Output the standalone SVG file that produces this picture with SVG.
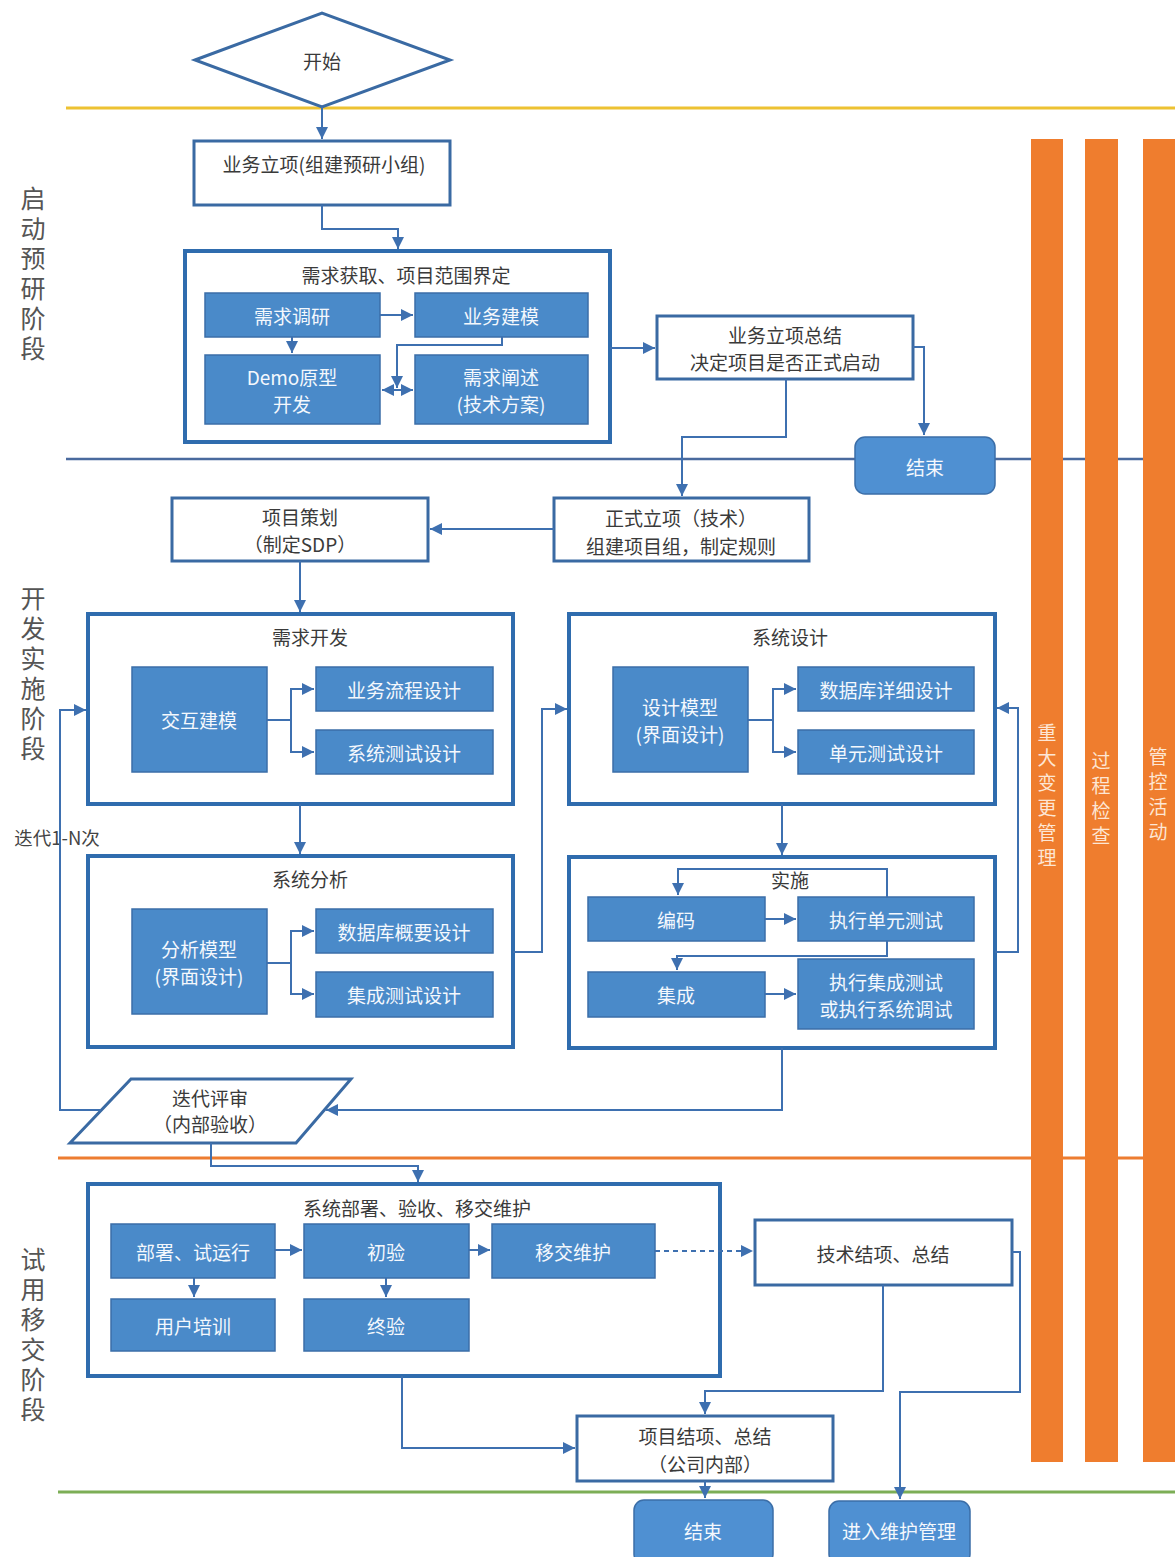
<svg xmlns="http://www.w3.org/2000/svg" width="1175" height="1557" viewBox="0 0 1175 1557">
<style>
text{font-family:"Noto Sans CJK SC","Liberation Sans",sans-serif;text-anchor:middle;dominant-baseline:central}
.t{font-size:19px;fill:#3a3a3a}
.w{font-size:19px;fill:#f4f8fd}
.ph{font-size:25px;fill:#555;writing-mode:vertical-rl;letter-spacing:5px}
.ob{font-size:19px;fill:#fde6d4;writing-mode:vertical-rl;letter-spacing:6px}
.cont{fill:#fff;stroke:#2f6cae;stroke-width:4}
.wb{fill:#fff;stroke:#3a6aa3;stroke-width:3}
.bb{fill:#4a8ac9;stroke:#3b6ea8;stroke-width:1.5}
.rb{fill:#4f90d2;stroke:#3b6ea8;stroke-width:1.5}
.c{fill:none;stroke:#3e70b0;stroke-width:2}
.a{marker-end:url(#ah)}
.bar{fill:#ef7d2e}
</style>
<defs>
<marker id="ah" markerUnits="userSpaceOnUse" markerWidth="12" markerHeight="12" viewBox="0 0 10 10" refX="10" refY="5" orient="auto"><path d="M0,0 L10,5 L0,10 z" fill="#3e70b0"/></marker>
<marker id="ahs" markerUnits="userSpaceOnUse" markerWidth="12" markerHeight="12" viewBox="0 0 10 10" refX="0" refY="5" orient="auto"><path d="M10,0 L0,5 L10,10 z" fill="#3e70b0"/></marker>
</defs>
<rect width="1175" height="1557" fill="#fff"/>

<!-- phase lines -->
<g id="lanes">
<line x1="66" y1="108" x2="1175" y2="108" stroke="#edc232" stroke-width="3"/>
<line x1="66" y1="459" x2="1175" y2="459" stroke="#4a6a9e" stroke-width="2.5"/>
<line x1="58" y1="1158" x2="1175" y2="1158" stroke="#ed7d31" stroke-width="3"/>
<line x1="58" y1="1492" x2="1175" y2="1492" stroke="#7cae56" stroke-width="3"/>
</g>

<!-- phase labels -->
<g id="phase1"><text class="ph" x="33" y="276">启动预研阶段</text></g>
<g id="phase2"><text class="ph" x="33" y="676">开发实施阶段</text></g>
<g id="phase3"><text class="ph" x="33" y="1337">试用移交阶段</text></g>

<!-- orange bars -->
<g id="bar1"><rect class="bar" x="1031" y="139" width="32" height="1323"/>
<text class="ob" x="1047" y="798">重大变更管理</text></g>
<g id="bar2"><rect class="bar" x="1085" y="139" width="33" height="1323"/>
<text class="ob" x="1101" y="801">过程检查</text></g>
<g id="bar3"><rect class="bar" x="1143" y="139" width="32" height="1323"/>
<text class="ob" x="1158" y="797">管控活动</text></g>

<!-- start -->
<g id="start"><polygon points="195,60 322,13 450,60 322,107" fill="#fff" stroke="#3a6aa3" stroke-width="3"/><text class="t" x="322" y="60">开始</text></g>

<g id="n1"><rect class="wb" x="194" y="141" width="256" height="64"/><text class="t" x="324" y="163">业务立项(组建预研小组)</text></g>

<g id="g1"><rect class="cont" x="185" y="251" width="425" height="191"/><text class="t" x="406" y="274">需求获取、项目范围界定</text>
<g id="g1a"><rect class="bb" x="205" y="293" width="175" height="44"/><text class="w" x="292" y="315">需求调研</text></g>
<g id="g1b"><rect class="bb" x="415" y="293" width="173" height="44"/><text class="w" x="501" y="315">业务建模</text></g>
<g id="g1c"><rect class="bb" x="205" y="355" width="175" height="69"/><text class="w" x="292" y="376">Demo原型</text><text class="w" x="292" y="403">开发</text></g>
<g id="g1d"><rect class="bb" x="415" y="355" width="173" height="69"/><text class="w" x="501" y="376">需求阐述</text><text class="w" x="501" y="403">(技术方案)</text></g>
</g>

<g id="n2"><rect class="wb" x="657" y="316" width="256" height="63"/><text class="t" x="785" y="334">业务立项总结</text><text class="t" x="785" y="361">决定项目是否正式启动</text></g>

<g id="end1"><rect class="rb" x="855" y="437" width="140" height="57" rx="10"/><text class="w" x="925" y="466">结束</text></g>

<g id="n3"><rect class="wb" x="554" y="498" width="255" height="63"/><text class="t" x="681" y="517">正式立项（技术）</text><text class="t" x="681" y="545">组建项目组，制定规则</text></g>

<g id="n4"><rect class="wb" x="172" y="498" width="256" height="63"/><text class="t" x="300" y="516">项目策划</text><text class="t" x="300" y="543">（制定SDP）</text></g>

<g id="g2"><rect class="cont" x="88" y="614" width="425" height="190"/><text class="t" x="310" y="636">需求开发</text>
<g id="g2a"><rect class="bb" x="132" y="667" width="135" height="105"/><text class="w" x="199" y="719">交互建模</text></g>
<g id="g2b"><rect class="bb" x="316" y="667" width="177" height="44"/><text class="w" x="404" y="689">业务流程设计</text></g>
<g id="g2c"><rect class="bb" x="316" y="730" width="177" height="44"/><text class="w" x="404" y="752">系统测试设计</text></g>
</g>

<g id="g3"><rect class="cont" x="88" y="856" width="425" height="191"/><text class="t" x="310" y="878">系统分析</text>
<g id="g3a"><rect class="bb" x="132" y="909" width="135" height="105"/><text class="w" x="199" y="948">分析模型</text><text class="w" x="199" y="975">(界面设计)</text></g>
<g id="g3b"><rect class="bb" x="316" y="909" width="177" height="44"/><text class="w" x="404" y="931">数据库概要设计</text></g>
<g id="g3c"><rect class="bb" x="316" y="972" width="177" height="45"/><text class="w" x="404" y="994">集成测试设计</text></g>
</g>

<g id="g4"><rect class="cont" x="569" y="614" width="426" height="190"/><text class="t" x="790" y="636">系统设计</text>
<g id="g4a"><rect class="bb" x="613" y="667" width="135" height="105"/><text class="w" x="680" y="706">设计模型</text><text class="w" x="680" y="733">(界面设计)</text></g>
<g id="g4b"><rect class="bb" x="798" y="667" width="176" height="44"/><text class="w" x="886" y="689">数据库详细设计</text></g>
<g id="g4c"><rect class="bb" x="798" y="730" width="176" height="44"/><text class="w" x="886" y="752">单元测试设计</text></g>
</g>

<g id="g5"><rect class="cont" x="569" y="857" width="426" height="191"/><text class="t" x="790" y="879">实施</text>
<g id="g5a"><rect class="bb" x="588" y="897" width="177" height="44"/><text class="w" x="676" y="919">编码</text></g>
<g id="g5b"><rect class="bb" x="798" y="897" width="176" height="44"/><text class="w" x="886" y="919">执行单元测试</text></g>
<g id="g5c"><rect class="bb" x="588" y="972" width="177" height="45"/><text class="w" x="676" y="994">集成</text></g>
<g id="g5d"><rect class="bb" x="798" y="959" width="176" height="70"/><text class="w" x="886" y="981">执行集成测试</text><text class="w" x="886" y="1008">或执行系统调试</text></g>
</g>

<g id="n5"><polygon points="131,1079 351,1079 296,1143 70,1143" fill="#fff" stroke="#3a6aa3" stroke-width="3"/><text class="t" x="210" y="1097">迭代评审</text><text class="t" x="210" y="1123">（内部验收）</text></g>

<g id="g6"><rect class="cont" x="88" y="1184" width="632" height="192"/><text class="t" x="417" y="1207">系统部署、验收、移交维护</text>
<g id="g6a"><rect class="bb" x="111" y="1224" width="164" height="54"/><text class="w" x="193" y="1251">部署、试运行</text></g>
<g id="g6b"><rect class="bb" x="304" y="1224" width="165" height="54"/><text class="w" x="386" y="1251">初验</text></g>
<g id="g6c"><rect class="bb" x="492" y="1224" width="163" height="54"/><text class="w" x="573" y="1251">移交维护</text></g>
<g id="g6d"><rect class="bb" x="111" y="1299" width="164" height="52"/><text class="w" x="193" y="1325">用户培训</text></g>
<g id="g6e"><rect class="bb" x="304" y="1299" width="165" height="52"/><text class="w" x="386" y="1325">终验</text></g>
</g>

<g id="n6"><rect class="wb" x="755" y="1220" width="257" height="65"/><text class="t" x="883" y="1253">技术结项、总结</text></g>
<g id="n7"><rect class="wb" x="577" y="1416" width="256" height="65"/><text class="t" x="705" y="1435">项目结项、总结</text><text class="t" x="705" y="1463">（公司内部）</text></g>
<g id="end2"><rect class="rb" x="634" y="1500" width="139" height="64" rx="10"/><text class="w" x="703" y="1530">结束</text></g>
<g id="end3"><rect class="rb" x="829" y="1501" width="141" height="63" rx="10"/><text class="w" x="899" y="1530">进入维护管理</text></g>

<text id="loopLabel" x="57" y="837" style="font-size:18.5px;fill:#444">迭代1-N次</text>

<g id="connectors">
<path class="c a" d="M322,107 V139"/>
<path class="c a" d="M322,205 V229 H398 V249"/>
<path class="c a" d="M380,315 H413"/>
<path class="c a" d="M292,337 V353"/>
<path class="c a" d="M502,337 V345 H397 V388"/>
<path class="c a" d="M382,390 H413" marker-start="url(#ahs)"/>
<path class="c a" d="M610,348 H655"/>
<path class="c a" d="M913,347 H924 V435"/>
<path class="c a" d="M786,379 V437 H682 V496"/>
<path class="c a" d="M554,529 H430"/>
<path class="c a" d="M300,561 V612"/>
<path class="c a" d="M267,720 H291 V689 H314"/>
<path class="c a" d="M291,720 V752 H314"/>
<path class="c a" d="M300,804 V854"/>
<path class="c a" d="M267,963 H291 V931 H314"/>
<path class="c a" d="M291,963 V994 H314"/>
<path class="c a" d="M513,952 H542 V709 H567"/>
<path class="c a" d="M748,720 H773 V689 H796"/>
<path class="c a" d="M773,720 V752 H796"/>
<path class="c a" d="M782,804 V855"/>
<path class="c a" d="M765,919 H796"/>
<path class="c a" d="M765,994 H796"/>
<path class="c a" d="M887,897 V869 H678 V895"/>
<path class="c a" d="M887,941 V956 H677 V970"/>
<path class="c a" d="M995,952 H1018 V708 H997"/>
<path class="c a" d="M782,1048 V1110 H326"/>
<path class="c a" d="M101,1110 H60 V710 H86"/>
<path class="c a" d="M211,1143 V1166 H418 V1182"/>
<path class="c a" d="M275,1250 H302"/>
<path class="c a" d="M469,1250 H490"/>
<path class="c a" d="M194,1278 V1297"/>
<path class="c a" d="M386,1278 V1297"/>
<path class="c a" d="M655,1251 H753" stroke-dasharray="5,4"/>
<path class="c a" d="M883,1285 V1391 H705 V1414"/>
<path class="c a" d="M1012,1252 H1020 V1392 H900 V1499"/>
<path class="c a" d="M402,1376 V1448 H575"/>
<path class="c a" d="M705,1481 V1498"/>
</g>
</svg>
